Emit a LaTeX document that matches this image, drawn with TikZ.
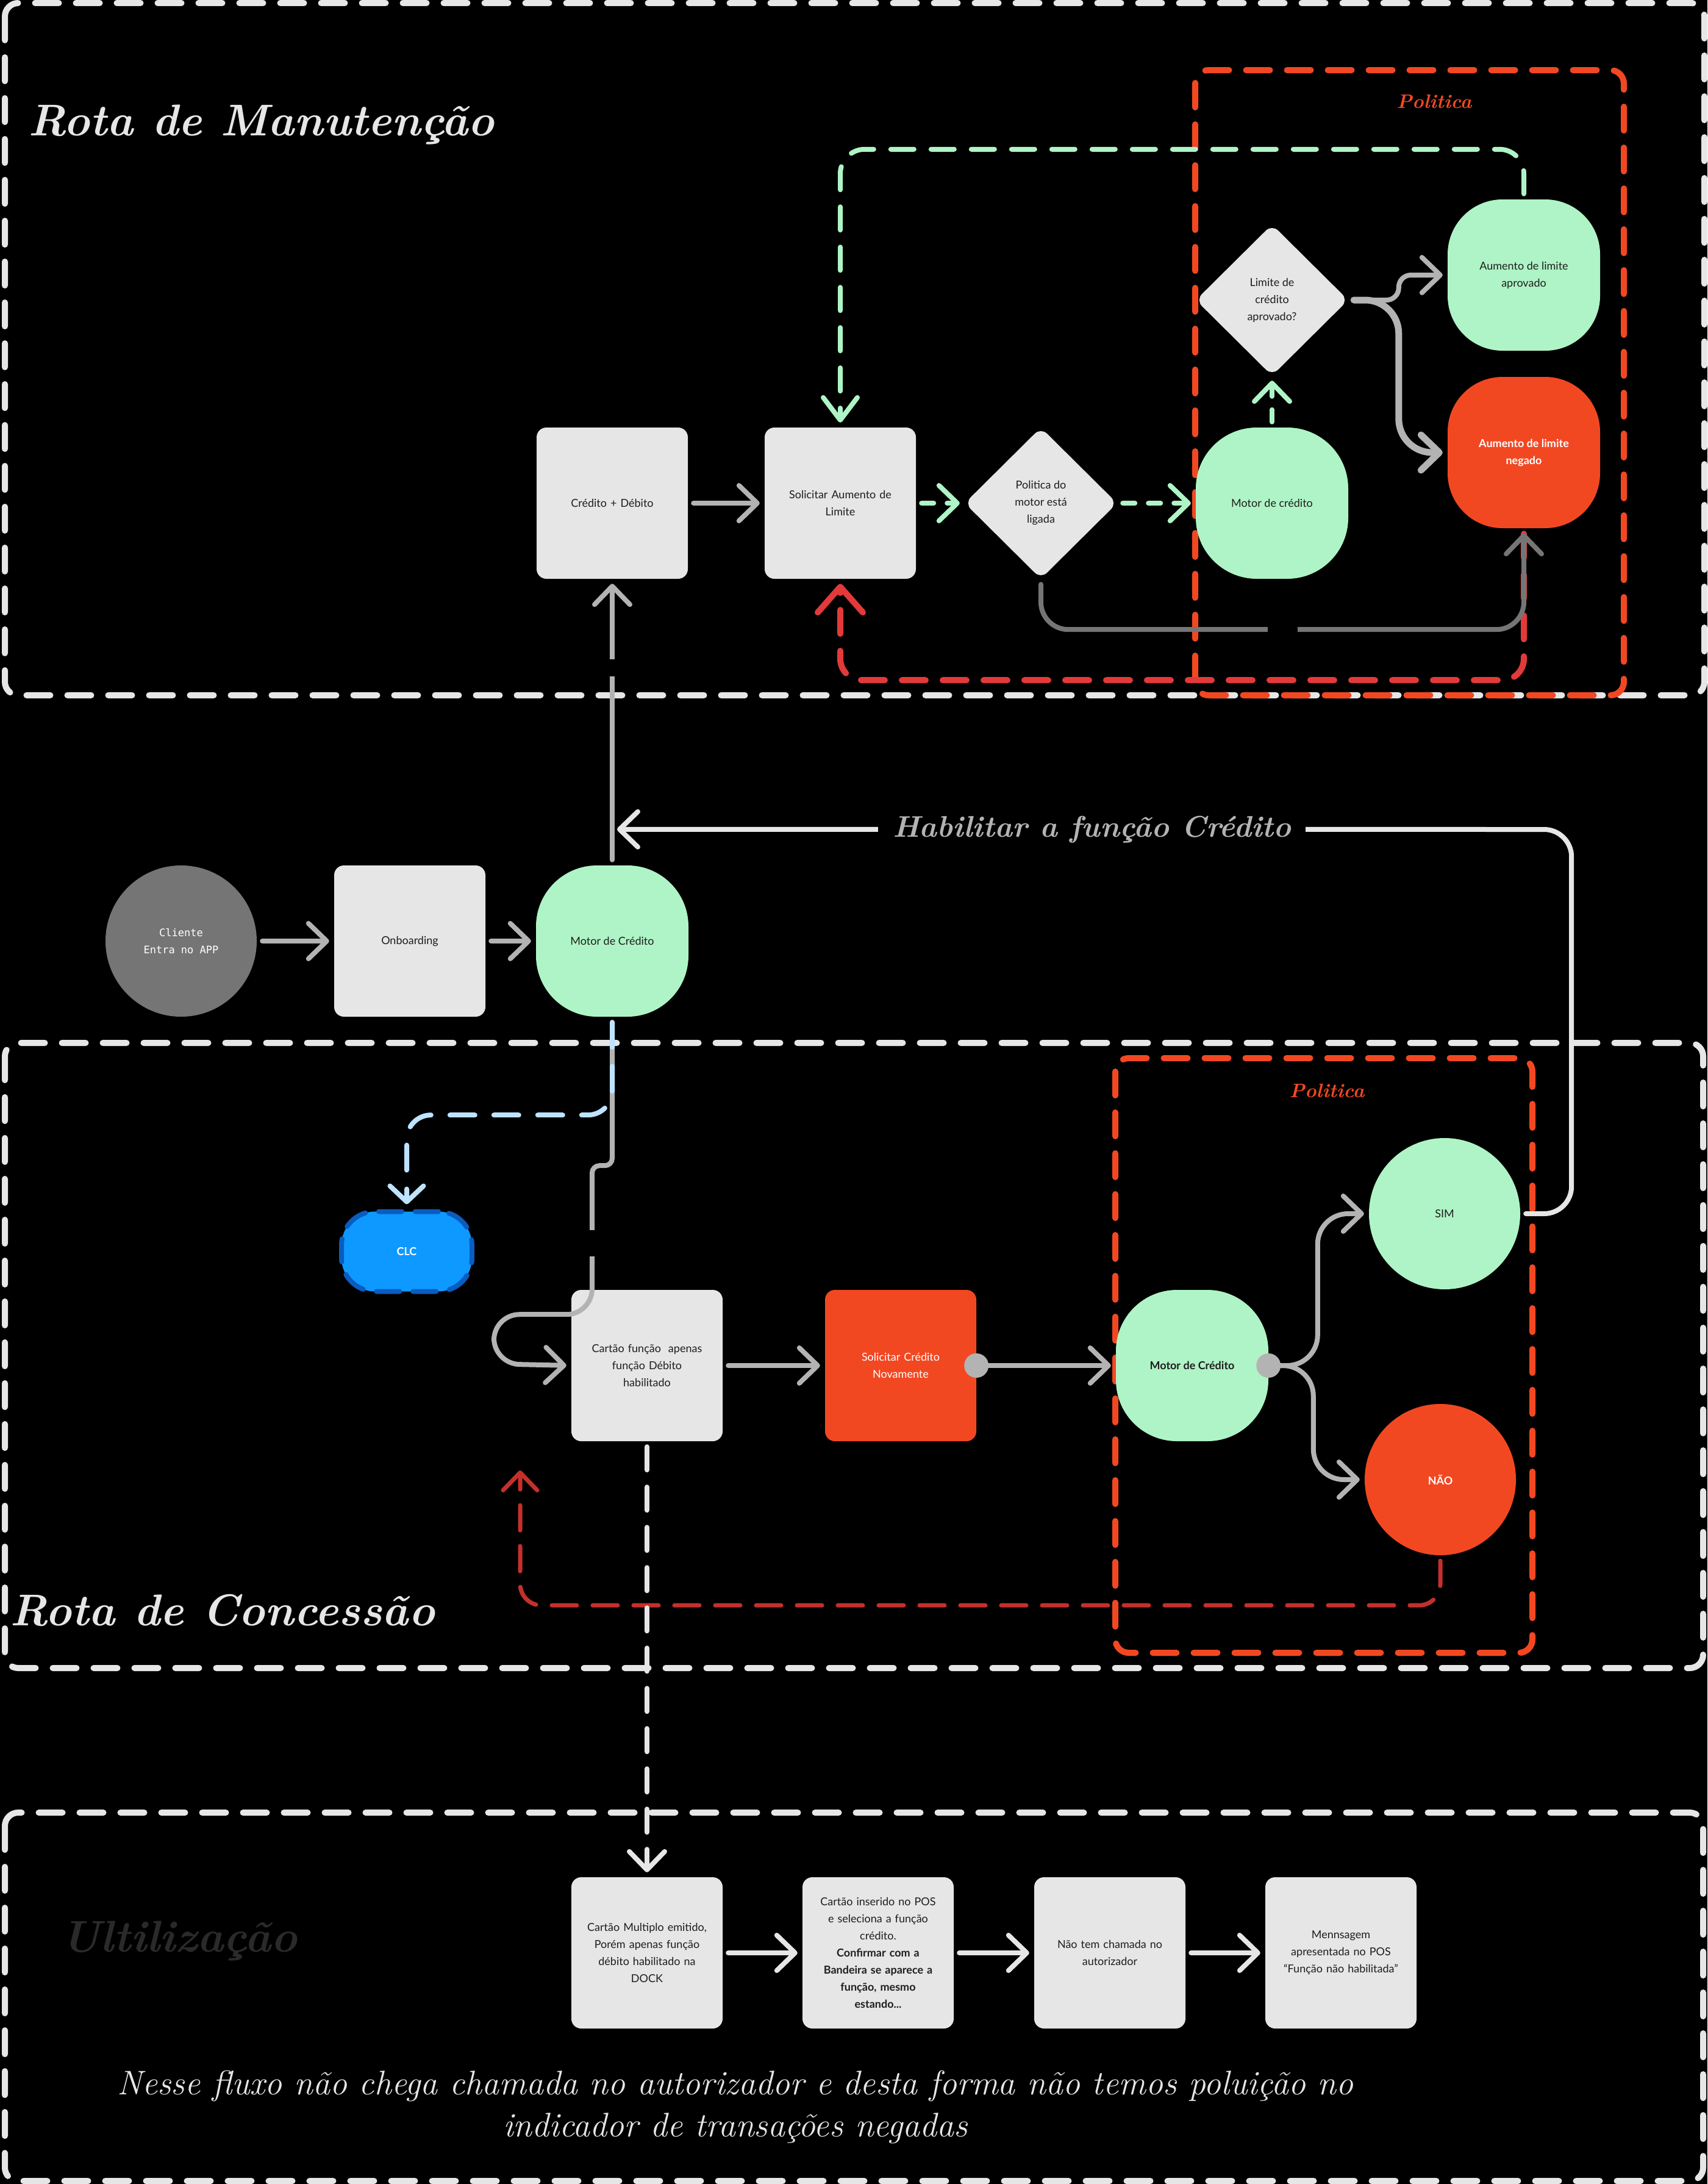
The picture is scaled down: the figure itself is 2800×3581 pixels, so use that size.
\documentclass[tikz,border=0pt]{standalone}
\usepackage{fontspec}
\usetikzlibrary{shapes.geometric,arrows.meta}

\newfontfamily\caixafont{Lato}
\newfontfamily\codfont{DejaVu Sans Mono}
\newcommand{\maofont}{\rmfamily\itshape}

\definecolor{cinzaclaro}{HTML}{E6E6E6}
\definecolor{verde}{HTML}{AFF4C6}
\definecolor{laranja}{HTML}{F24822}
\definecolor{cinza}{HTML}{B3B3B3}
\definecolor{cinzaesc}{HTML}{757575}
\definecolor{vermelho}{HTML}{E23A3A}
\definecolor{vermelhoesc}{HTML}{C4302B}
\definecolor{azulclaro}{HTML}{BDE3FF}
\definecolor{azul}{HTML}{0D99FF}
\definecolor{azulesc}{HTML}{0A5CC0}
\definecolor{tinta}{HTML}{1E1E1E}
\definecolor{apagado}{HTML}{2A2A2A}

\tikzset{
  base/.style={inner sep=0pt, align=center, text=tinta,
    font=\caixafont\fontsize{18}{28}\selectfont},
  caixa/.style={base, rectangle, rounded corners=16pt, fill=cinzaclaro,
    minimum width=248pt, minimum height=248pt, text width=236pt},
  bolha/.style={base, rectangle, rounded corners=100pt, fill=verde,
    minimum width=250pt, minimum height=248pt},
  losango/.style={base, diamond, aspect=1, rounded corners=14pt,
    fill=cinzaclaro, minimum width=250pt, minimum height=248pt},
  redondo/.style={base, circle, minimum size=248pt},
  negrito/.style={font=\caixafont\bfseries\fontsize{18}{28}\selectfont},
  ponto/.style={circle, fill=cinza, minimum size=40pt, inner sep=0pt},
  clc/.style={base, rectangle, rounded corners=55pt, fill=azul, draw=azulesc,
    line width=8pt, dash pattern=on 38pt off 22pt, line cap=round,
    minimum width=214pt, minimum height=131pt, text=white, negrito},
  titulo/.style={anchor=west, inner sep=0pt, text=cinzaclaro,
    font=\maofont\bfseries\fontsize{73}{90}\selectfont},
  politica/.style={inner sep=0pt, text=laranja, font=\maofont\bfseries\fontsize{32}{40}\selectfont},
  rotulo/.style={sharp corners, fill=black, inner xsep=24pt, inner ysep=4pt, text=cinza,
    font=\maofont\bfseries\fontsize{49}{60}\selectfont},
  lacuna/.style={sharp corners, fill=black, inner sep=0pt},
  moldura/.style={draw=cinzaclaro, line width=10pt, line cap=round,
    dash pattern=on 39pt off 28pt, rounded corners=22pt},
  seta/.style={->, draw=cinza, line width=8pt, line cap=round,
    shorten <=9pt, shorten >=8pt},
  setaesc/.style={seta, draw=cinzaesc},
  setabranca/.style={seta, draw=cinzaclaro},
  setaverde/.style={seta, draw=verde, dash pattern=on 20pt off 22pt},
  setaverdetopo/.style={seta, draw=verde, dash pattern=on 38pt off 28pt,
    -{Straight Barb[round, length=37pt, width=56pt]}},
  setavermelha/.style={seta, draw=vermelho, line width=10pt,
    dash pattern=on 39pt off 28pt, -{Straight Barb[round, length=42pt, width=74pt]}},
  setavermelhaesc/.style={seta, draw=vermelhoesc, line width=7pt,
    dash pattern=on 41pt off 26pt, -{Straight Barb[round, length=29pt, width=56pt]}},
  setaazul/.style={seta, draw=azulclaro, dash pattern=on 41pt off 31pt,
    -{Straight Barb[round, length=26pt, width=55pt]}},
  setatracejada/.style={seta, draw=cinzaclaro, dash pattern=on 38pt off 28pt},
}

\begin{document}
\begin{tikzpicture}[x=1pt, y=-1pt, >={Straight Barb[round, length=30pt, width=58pt]}]
    \useasboundingbox (0,0) rectangle (2800,3581);
    \fill[black] (0,0) rectangle (2800,3581);

    % molduras
    \draw[moldura] (8,5) rectangle (2795,1140);
    \draw[moldura] (8,1710) rectangle (2793,2735);
    \draw[moldura] (8,2972) rectangle (2793,3576);
    \draw[moldura, draw=laranja] (1960,115) rectangle (2663,1140);
    \draw[moldura, draw=laranja] (1829,1735) rectangle (2513,2710);

    % titulos
    \node[titulo] (tman) at (46,204) {Rota de Manutenção};
    \node[titulo] (tcon) at (16,2640) {Rota de Concessão};
    \node[titulo, text=apagado] (tutil) at (100,3182) {Ultilização};
    \node[politica] (pman) at (2352,167) {Politica};
    \node[politica] (pcon) at (2176,1788) {Politica};

    % Rota de Manutencao
    \node[caixa] (cd) at (1004,825) {Crédito + Débito};
    \node[caixa] (sol) at (1378,825) {Solicitar Aumento de\\Limite};
    \node[losango] (pol) at (1707,825) {Politica do\\motor está\\ligada};
    \node[bolha] (mot) at (2086,825) {Motor de crédito};
    \node[losango] (lim) at (2086,492) {Limite de\\crédito\\aprovado?};
    \node[bolha, rounded corners=90pt] (aprov) at (2499,451) {Aumento de limite\\aprovado};
    \node[bolha, rounded corners=90pt, fill=laranja, text=white, negrito] (neg) at (2499,742) {Aumento de limite\\negado};

    % entrada
    \node[redondo, fill=cinzaesc, text=white, font=\codfont\fontsize{17}{28}\selectfont] (cli) at (297,1543) {Cliente\\Entra no APP};
    \node[caixa] (onb) at (672,1543) {Onboarding};
    \node[bolha] (mc) at (1004,1543) {Motor de Crédito};

    % Rota de Concessao
    \node[clc] (clc) at (667,2052) {CLC};
    \node[caixa] (cart) at (1061,2239) {Cartão função~ apenas\\função Débito\\habilitado};
    \node[caixa, fill=laranja, text=white] (scn) at (1477,2239) {Solicitar Crédito\\Novamente};
    \node[bolha, negrito] (mcc) at (1955,2239) {Motor de Crédito};
    \node[redondo, fill=verde] (sim) at (2369,1990) {SIM};
    \node[redondo, fill=laranja, text=white, negrito] (nao) at (2362,2426) {NÃO};
    \node[ponto] (p1) at (scn.east) {};
    \node[ponto] (p2) at (mcc.east) {};
    \coordinate (volta) at (853,2403);

    % Ultilizacao
    \node[caixa] (u1) at (1061,3202) {Cartão Multiplo emitido,\\Porém apenas função\\débito habilitado na\\DOCK};
    \node[caixa] (u2) at (1440,3202) {Cartão inserido no POS\\e seleciona a função\\crédito.\\\textbf{Confirmar com a}\\\textbf{Bandeira se aparece a}\\\textbf{função, mesmo}\\\textbf{estando...}};
    \node[caixa] (u3) at (1820,3202) {Não tem chamada no\\autorizador};
    \node[caixa] (u4) at (2199,3202) {Mennsagem\\apresentada no POS\\“Função não habilitada”};
    \node[align=center, text=cinzaclaro, font=\maofont\fontsize{56}{69}\selectfont] (nota) at (1206,3455)
      {Nesse fluxo não chega chamada no autorizador e desta forma não temos poluição no\\indicador de transações negadas};

    % conectores da manutencao
    \draw[seta] (cd) -- (sol);
    \draw[setaverde] (sol) -- (pol);
    \draw[setaverde] (pol) -- (mot);
    \draw[setaverde] (mot) -- (lim);
    \draw[seta, rounded corners=20pt] (lim.east) -| ([xshift=-80pt]aprov.west) -- (aprov.west);
    \draw[seta, line width=11pt, rounded corners=55pt] (lim.east) -| ([xshift=-80pt]neg.west) -- (neg.west);
    \draw[setavermelha, rounded corners=35pt] (neg.south) -- ++(0,249) -| (sol.south);
    \draw[setaesc, rounded corners=45pt] (pol.south) -- ++(0,83) -| node[pos=0.25, lacuna, minimum width=49pt, minimum height=20pt] {} (neg.south);
    \draw[setaverdetopo, rounded corners=40pt] (aprov.north) -- ++(0,-82) -| (sol.north);

    % entrada
    \draw[seta] (cli) -- (onb);
    \draw[seta] (onb) -- (mc);
    \draw[seta] (mc) -- node[pos=0.69, lacuna, minimum width=20pt, minimum height=28pt] {} (cd);
    \coordinate (habfim) at ([yshift=59pt]mc.north);
    \draw[setabranca, rounded corners=45pt] (sim.east) -| ++(84,-630) -- node[rotulo] {Habilitar a função Crédito} (habfim);

    % conectores da concessao
    \draw[seta] (mc.south) [rounded corners=12pt] -- ++(0,244) -- ++(-33,0)
      [rounded corners=42pt] -- node[pos=0.52, lacuna, minimum width=20pt, minimum height=43pt] {} ++(0,244)
      -- ++(-161,0) -- ++(0,81) -- (cart.west);
    \draw[setaazul, rounded corners=40pt] (mc.south) -- ++(0,161) -| (clc.north);
    \draw[seta] (cart) -- (scn);
    \draw[seta, shorten <=0pt] (p1) -- (mcc);
    \draw[seta, shorten <=0pt, rounded corners=50pt] (p2.east) -| ([xshift=-84pt]sim.west) -- (sim.west);
    \draw[seta, shorten <=0pt, rounded corners=50pt] (p2.east) -| ([xshift=-84pt]nao.west) -- (nao.west);
    \draw[setavermelhaesc, rounded corners=35pt] (nao.south) -- ++(0,82) -| (volta);
    \draw[setatracejada] (cart) -- (u1);

    % ultilizacao
    \foreach \a/\b in {u1/u2, u2/u3, u3/u4}
      \draw[setabranca] (\a) -- (\b);
\end{tikzpicture}
\end{document}
